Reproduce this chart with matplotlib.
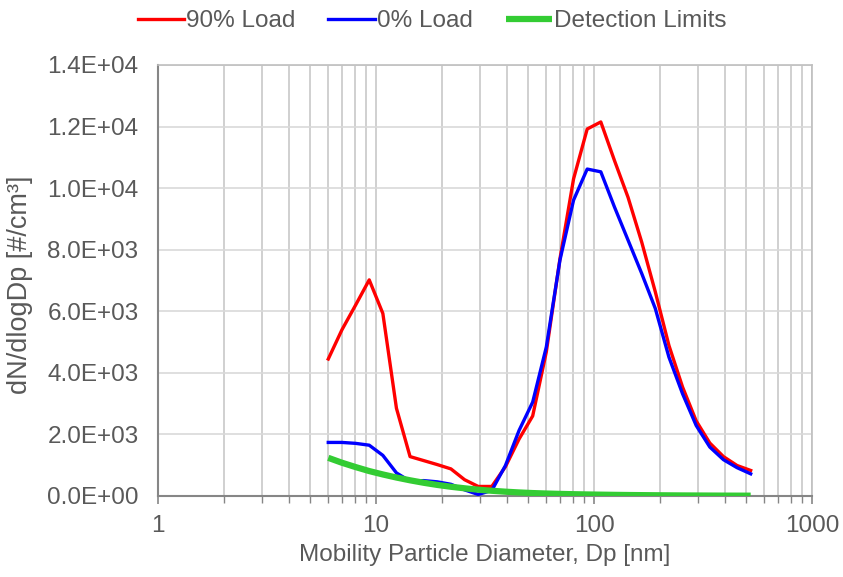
import matplotlib
matplotlib.use("Agg")
import matplotlib.pyplot as plt
from matplotlib.ticker import FuncFormatter, FixedLocator, LogLocator, NullFormatter

# Mobility diameter bin midpoints [nm]
diameter = [6.04, 6.98, 8.06, 9.31, 10.75, 12.41, 14.33, 16.55, 19.11, 22.07,
            25.48, 29.43, 33.98, 39.24, 45.32, 52.33, 60.43, 69.78, 80.58, 93.06,
            107.46, 124.09, 143.30, 165.48, 191.09, 220.67, 254.83, 294.27, 339.82,
            392.42, 453.15, 523.29]

load_90 = [4450, 5400, 6200, 7020, 5930, 2850, 1280, 1150, 1020, 880,
           530, 310, 310, 950, 1850, 2600, 4680, 7700, 10300, 11920,
           12150, 10900, 9700, 8250, 6630, 4890, 3540, 2440, 1720, 1280,
           990, 830]

load_0 = [1740, 1740, 1710, 1650, 1320, 750, 480, 500, 460, 380,
          200, 50, 180, 990, 2130, 3050, 4840, 7660, 9610, 10620,
          10530, 9390, 8310, 7230, 6090, 4510, 3320, 2290, 1590, 1180,
          920, 720]

detection = [1240, 1080, 940, 810, 700, 600, 510, 430, 360, 300,
             250, 205, 170, 140, 115, 95, 80, 68, 58, 50,
             43, 37, 32, 28, 24, 21, 18, 16, 14, 12,
             11, 10]

x_ticks = [1, 10, 100, 1000]
y_ticks = [0, 2000, 4000, 6000, 8000, 10000, 12000, 14000]

plt.rcParams['font.family'] = ['Liberation Sans', 'DejaVu Sans']
text_col = '#595959'
fs = 17.5

fig = plt.figure(figsize=(8.43, 5.77), dpi=100)
ax = fig.add_axes([158/843, 1-496/577, (812-158)/843, (496-65)/577])

ax.plot(diameter, load_90, color='#FF0000', lw=2.4, label='90% Load', zorder=3)
ax.plot(diameter, load_0, color='#0000FF', lw=2.4, label='0% Load', zorder=3)
ax.plot(diameter, detection, color='#33CC33', lw=4.5, label='Detection Limits',
        solid_capstyle='butt', zorder=4)

ax.set_xscale('log')
ax.set_xlim(1, 1000)
ax.set_ylim(0, 14000)
ax.xaxis.set_major_locator(FixedLocator(x_ticks))
ax.xaxis.set_major_formatter(FuncFormatter(lambda v, p: f"{v:g}"))
ax.xaxis.set_minor_locator(LogLocator(base=10, subs=range(2, 10)))
ax.xaxis.set_minor_formatter(NullFormatter())
ax.yaxis.set_major_locator(FixedLocator(y_ticks))
ax.yaxis.set_major_formatter(FuncFormatter(lambda v, p: f"{v:.1E}"))

ax.grid(True, which='major', axis='y', color='#D9D9D9', lw=1.2)
ax.grid(True, which='both', axis='x', color='#C8C8C8', lw=1.2)
ax.set_axisbelow(True)

for s in ['top', 'right']:
    ax.spines[s].set_visible(True)
    ax.spines[s].set_color('#BFBFBF')
    ax.spines[s].set_linewidth(1.2)
for s in ['left', 'bottom']:
    ax.spines[s].set_color('#868686')
    ax.spines[s].set_linewidth(1.5)

ax.tick_params(axis='x', which='major', length=6, color='#868686', width=1.2,
               labelsize=fs, labelcolor=text_col, pad=8)
ax.tick_params(axis='x', which='minor', length=5, color='#868686', width=1.0)
ax.tick_params(axis='y', length=0, labelsize=fs, labelcolor=text_col, pad=14)

ax.set_xlabel('Mobility Particle Diameter, Dp [nm]', fontsize=fs, color=text_col)
ax.xaxis.set_label_coords(0.5, (496-555)/431, transform=ax.transAxes)
ax.xaxis.label.set_va('center')
ax.set_ylabel('dN/dlogDp [#/cm³]', fontsize=19.5, color=text_col)
ax.yaxis.set_label_coords((20-158)/654, 0.49, transform=ax.transAxes)
ax.yaxis.label.set_va('center')

fig.legend(loc='upper center', bbox_to_anchor=(0.5125, 1.02), ncol=3, frameon=False,
           fontsize=fs, labelcolor=text_col, handlelength=1.9, handletextpad=0.08,
           columnspacing=1.36)

fig.savefig('out.png', dpi=100)
